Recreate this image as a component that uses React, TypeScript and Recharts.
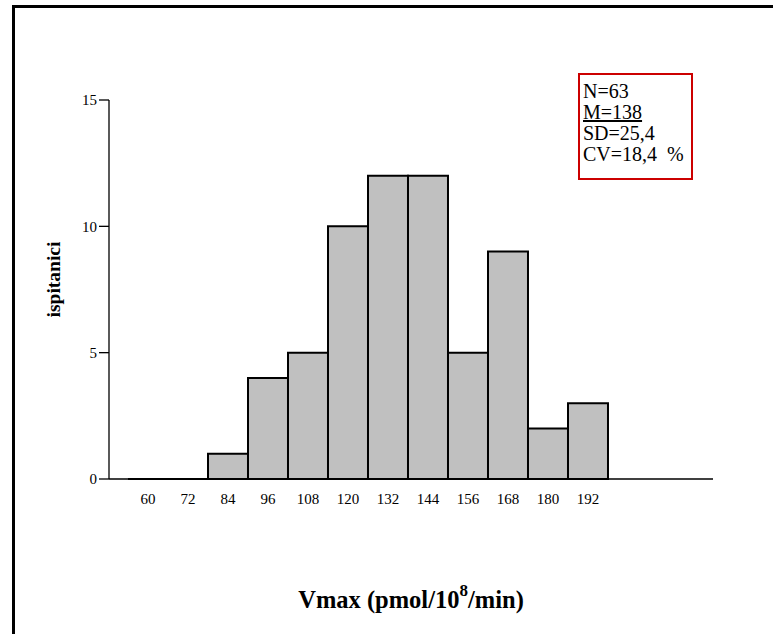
import React from 'react';
import { BarChart, Bar, XAxis, YAxis, Label } from 'recharts';

const bins = [60, 72, 84, 96, 108, 120, 132, 144, 156, 168, 180, 192];
const counts = [0, 0, 1, 4, 5, 10, 12, 12, 5, 9, 2, 3];
const yTicks = [0, 5, 10, 15];
const xDomain = [48.3, 229.5];
const statLines = ['N=63', 'M=138', 'SD=25,4', 'CV=18,4\u00a0\u00a0%'];
const yTitle = 'ispitanici';
const xTitleMain = 'Vmax (pmol/10';
const xTitleSup = '8';
const xTitleEnd = '/min)';

const data = bins.map((b, i) => ({ bin: b, count: counts[i] }));

const FONT = '"Liberation Serif", "Times New Roman", Times, serif';

const BarShape = (props: any) => {
  const { x, y, width, height } = props;
  if (x == null || y == null || width == null) return null;
  const h = height || 0;
  const d = `M${x},${y + h} L${x},${y} L${x + width},${y} L${x + width},${y + h} Z`;
  return <path d={d} fill="#c0c0c0" stroke="#000" strokeWidth={2} />;
};

export default function App() {
  return (
    <div style={{ position: 'absolute', left: 0, top: 0, width: 773, height: 634, overflow: 'hidden', background: '#fff', fontFamily: FONT }}>
      <div style={{ position: 'absolute', left: 12, top: 5, width: 800, height: 700, borderTop: '3px solid #000', borderLeft: '3px solid #000' }} />
      <div style={{ position: 'absolute', left: 0, top: 0 }}>
        <BarChart width={773} height={634} data={data} margin={{ top: 100, right: 60, bottom: 115, left: 49 }}>
          <XAxis
            dataKey="bin"
            type="number"
            domain={xDomain}
            ticks={bins}
            allowDataOverflow
            interval={0}
            height={40}
            tickLine={false}
            tickSize={0}
            tickMargin={14}
            axisLine={{ stroke: '#000', strokeWidth: 1.3 }}
            tick={{ fill: '#000', fontSize: 15, fontFamily: FONT }}
          >
            <Label
              content={(props: any) => {
                const vb = props.viewBox || { x: 109, y: 479, width: 604 };
                return (
                  <text x={vb.x + vb.width / 2} y={vb.y + 129} textAnchor="middle" fontFamily={FONT} fontWeight="bold" fontSize={24.5} fill="#000">
                    <tspan>{xTitleMain}</tspan>
                    <tspan fontSize={17} dy={-12}>{xTitleSup}</tspan>
                    <tspan dy={12}>{xTitleEnd}</tspan>
                  </text>
                );
              }}
            />
          </XAxis>
          <YAxis
            type="number"
            domain={[0, 15]}
            ticks={yTicks}
            width={60}
            tickSize={10}
            tickMargin={2}
            tickLine={{ stroke: '#000', strokeWidth: 1.3 }}
            axisLine={{ stroke: '#000', strokeWidth: 1.3 }}
            tick={{ fill: '#000', fontSize: 15, fontFamily: FONT }}
          >
            <Label
              content={(props: any) => {
                const vb = props.viewBox || { x: 49, y: 100, height: 379 };
                const cx = vb.x + 4;
                const cy = vb.y + vb.height / 2 - 10;
                return (
                  <text x={cx} y={cy} transform={`rotate(-90 ${cx} ${cy})`} textAnchor="middle" dominantBaseline="central" fontFamily={FONT} fontWeight="bold" fontSize={19.5} fill="#000">
                    {yTitle}
                  </text>
                );
              }}
            />
          </YAxis>
          <Bar dataKey="count" fill="#c0c0c0" stroke="#000" strokeWidth={2} barSize={39.99} shape={BarShape} isAnimationActive={false} />
        </BarChart>
      </div>
      <div
        style={{
          position: 'absolute',
          left: 578,
          top: 73,
          width: 115,
          height: 107,
          boxSizing: 'border-box',
          border: '2.5px solid #cc0000',
          padding: '6px 0 0 3px',
          fontFamily: FONT,
          fontSize: 20,
          lineHeight: '21px',
          color: '#000',
          whiteSpace: 'nowrap',
        }}
      >
        {statLines.map((s, i) => (
          <div key={i} style={{ textDecoration: i === 1 ? 'underline' : 'none' }}>{s}</div>
        ))}
      </div>
    </div>
  );
}
